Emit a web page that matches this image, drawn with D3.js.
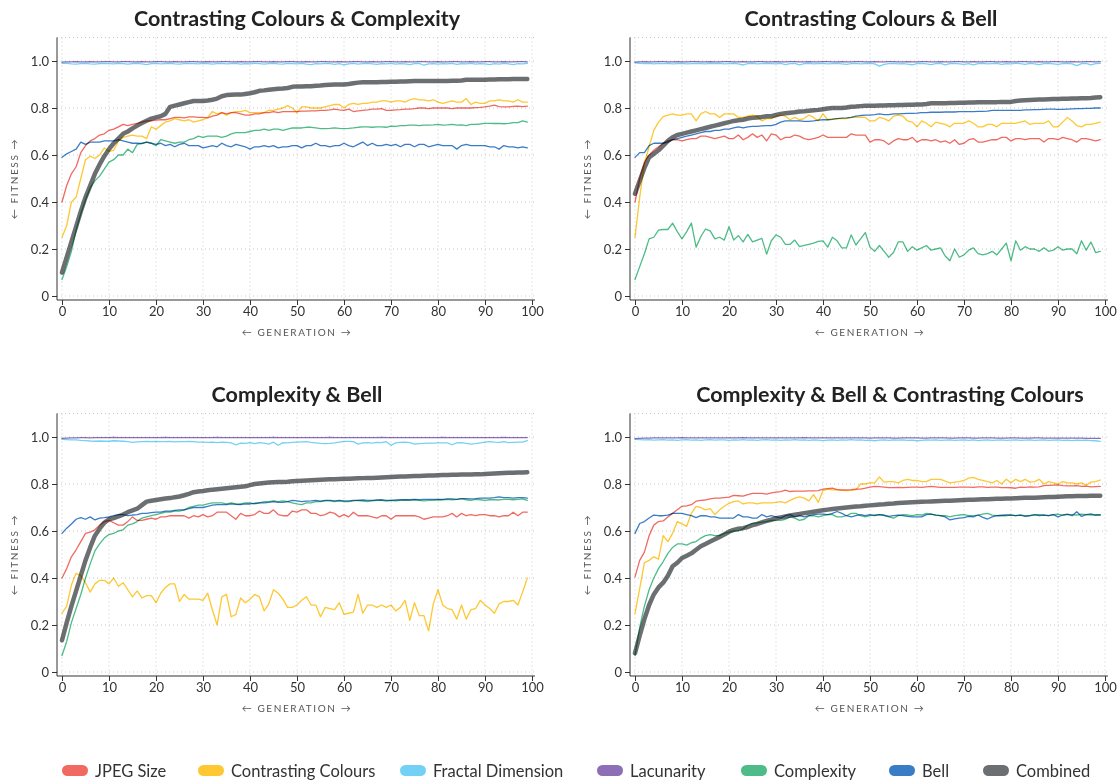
<!DOCTYPE html>
<html>
<head>
<meta charset="utf-8">
<script src="https://cdn.jsdelivr.net/npm/d3@7"></script>
<style>
  html, body { margin: 0; padding: 0; background: #fff; }
  svg { display: block; font-family: Lato, "Noto Sans", sans-serif; }
  .series { mix-blend-mode: multiply; }
</style>
</head>
<body>
<svg id="chart" width="1118" height="782"></svg>
<script>
// ---- labels ----
const panelTitles = [
  "Contrasting Colours & Complexity",
  "Contrasting Colours & Bell",
  "Complexity & Bell",
  "Complexity & Bell & Contrasting Colours"
];
const seriesNames = ["JPEG Size", "Contrasting Colours", "Fractal Dimension", "Lacunarity", "Complexity", "Bell", "Combined"];
const seriesColors = ["#f16a62", "#fdc832", "#74d1f6", "#8c6fb7", "#4dbc88", "#3b7cc6", "#6c6f71"];
const xTicks = [0, 10, 20, 30, 40, 50, 60, 70, 80, 90, 100];
const yTicks = [0, 0.2, 0.4, 0.6, 0.8, 1.0];
const yTickLabels = ["0", "0.2", "0.4", "0.6", "0.8", "1.0"];

// ---- Contrasting Colours & Complexity ----
const ccxJpeg = [
  0.40,0.47,0.52,0.55,0.61,0.64,0.66,0.67,0.685,0.69,
  0.705,0.71,0.72,0.73,0.725,0.73,0.735,0.74,0.745,0.745,
  0.748,0.75,0.75,0.755,0.76,0.76,0.758,0.762,0.762,0.76,
  0.76,0.758,0.765,0.77,0.78,0.775,0.78,0.78,0.775,0.77,
  0.77,0.775,0.775,0.78,0.78,0.785,0.78,0.785,0.785,0.785,
  0.785,0.787,0.787,0.788,0.788,0.79,0.79,0.792,0.795,0.792,
  0.79,0.795,0.785,0.788,0.79,0.792,0.795,0.795,0.797,0.79,
  0.79,0.792,0.793,0.795,0.795,0.797,0.80,0.80,0.797,0.80,
  0.80,0.80,0.80,0.797,0.80,0.80,0.80,0.80,0.802,0.803,
  0.805,0.808,0.812,0.806,0.805,0.805,0.807,0.808,0.806,0.808
];
const ccxContrast = [
  0.25,0.30,0.40,0.42,0.50,0.58,0.595,0.585,0.60,0.63,
  0.615,0.62,0.66,0.675,0.68,0.685,0.68,0.68,0.67,0.72,
  0.71,0.725,0.74,0.745,0.755,0.75,0.745,0.75,0.74,0.745,
  0.75,0.76,0.785,0.775,0.78,0.77,0.78,0.785,0.785,0.79,
  0.78,0.78,0.78,0.78,0.79,0.79,0.795,0.80,0.81,0.80,
  0.78,0.805,0.805,0.80,0.80,0.80,0.805,0.81,0.815,0.815,
  0.80,0.815,0.82,0.815,0.82,0.82,0.825,0.825,0.83,0.83,
  0.825,0.83,0.83,0.825,0.835,0.84,0.835,0.835,0.83,0.835,
  0.825,0.82,0.825,0.83,0.825,0.825,0.84,0.815,0.825,0.82,
  0.82,0.83,0.83,0.835,0.83,0.83,0.825,0.835,0.825,0.825
];
const ccxFractal = [
  0.99,0.99,0.988,0.987,0.989,0.99,0.988,0.987,0.989,0.99,
  0.989,0.988,0.99,0.989,0.987,0.989,0.99,0.988,0.985,0.989,
  0.99,0.988,0.989,0.99,0.988,0.987,0.989,0.99,0.989,0.988,
  0.99,0.989,0.987,0.989,0.99,0.988,0.989,0.99,0.987,0.989,
  0.988,0.99,0.989,0.987,0.989,0.99,0.988,0.987,0.99,0.989,
  0.988,0.99,0.987,0.985,0.989,0.988,0.99,0.989,0.986,0.989,
  0.984,0.988,0.99,0.987,0.989,0.99,0.988,0.986,0.989,0.988,
  0.99,0.987,0.989,0.988,0.985,0.989,0.99,0.982,0.988,0.989,
  0.987,0.989,0.988,0.99,0.986,0.989,0.988,0.99,0.987,0.989,
  0.988,0.985,0.989,0.987,0.99,0.988,0.985,0.989,0.988,0.99
];
const ccxLacunarity = [
  0.995,0.996,0.996,0.997,0.996,0.996,0.997,0.996,0.996,0.997,
  0.997,0.996,0.996,0.997,0.997,0.996,0.996,0.997,0.996,0.996,
  0.997,0.997,0.996,0.996,0.997,0.996,0.996,0.997,0.997,0.996,
  0.996,0.997,0.996,0.996,0.997,0.997,0.996,0.996,0.997,0.996,
  0.996,0.997,0.997,0.996,0.996,0.997,0.996,0.996,0.997,0.997,
  0.996,0.996,0.997,0.996,0.996,0.997,0.997,0.996,0.996,0.997,
  0.996,0.996,0.997,0.997,0.996,0.996,0.997,0.996,0.996,0.997,
  0.997,0.996,0.996,0.997,0.996,0.996,0.997,0.997,0.996,0.996,
  0.997,0.996,0.996,0.997,0.997,0.996,0.996,0.997,0.996,0.996,
  0.997,0.997,0.996,0.996,0.997,0.996,0.996,0.997,0.997,0.996
];
const ccxComplexity = [
  0.07,0.125,0.19,0.28,0.35,0.41,0.46,0.49,0.51,0.54,
  0.57,0.58,0.60,0.60,0.625,0.61,0.645,0.65,0.655,0.65,
  0.64,0.665,0.66,0.655,0.65,0.655,0.655,0.665,0.67,0.68,
  0.675,0.68,0.68,0.68,0.675,0.68,0.69,0.695,0.695,0.695,
  0.70,0.705,0.705,0.71,0.705,0.71,0.71,0.705,0.71,0.715,
  0.715,0.715,0.718,0.718,0.715,0.712,0.712,0.713,0.715,0.713,
  0.712,0.713,0.715,0.718,0.72,0.72,0.718,0.72,0.72,0.718,
  0.723,0.722,0.725,0.725,0.727,0.727,0.725,0.727,0.727,0.728,
  0.73,0.727,0.728,0.73,0.727,0.728,0.725,0.73,0.73,0.732,
  0.735,0.735,0.734,0.735,0.733,0.735,0.738,0.738,0.745,0.74
];
const ccxBell = [
  0.59,0.605,0.615,0.625,0.655,0.645,0.655,0.655,0.655,0.66,
  0.66,0.66,0.665,0.66,0.655,0.65,0.65,0.648,0.655,0.65,
  0.645,0.65,0.64,0.645,0.635,0.645,0.65,0.64,0.64,0.64,
  0.63,0.635,0.64,0.635,0.65,0.64,0.635,0.645,0.64,0.635,
  0.625,0.635,0.635,0.64,0.635,0.64,0.63,0.635,0.635,0.64,
  0.64,0.63,0.64,0.64,0.65,0.64,0.64,0.635,0.64,0.64,
  0.65,0.64,0.635,0.645,0.655,0.64,0.65,0.64,0.64,0.645,
  0.64,0.645,0.635,0.645,0.645,0.635,0.645,0.645,0.635,0.64,
  0.645,0.64,0.64,0.64,0.625,0.64,0.645,0.64,0.64,0.64,
  0.64,0.635,0.635,0.625,0.64,0.635,0.635,0.63,0.635,0.63
];
const ccxCombined = [
  0.10,0.165,0.23,0.295,0.36,0.42,0.47,0.52,0.56,0.595,
  0.625,0.65,0.67,0.69,0.70,0.713,0.725,0.736,0.746,0.755,
  0.76,0.765,0.775,0.805,0.81,0.815,0.82,0.825,0.83,0.83,
  0.83,0.832,0.835,0.84,0.85,0.855,0.856,0.857,0.857,0.86,
  0.863,0.867,0.873,0.875,0.878,0.88,0.882,0.883,0.885,0.89,
  0.892,0.892,0.893,0.893,0.895,0.896,0.898,0.899,0.90,0.90,
  0.90,0.902,0.905,0.908,0.91,0.91,0.91,0.91,0.911,0.911,
  0.912,0.912,0.913,0.913,0.914,0.915,0.915,0.915,0.915,0.915,
  0.915,0.915,0.915,0.916,0.916,0.917,0.92,0.92,0.92,0.92,
  0.92,0.921,0.921,0.922,0.922,0.922,0.923,0.923,0.923,0.923
];

// ---- Contrasting Colours & Bell ----
const cbJpeg = [
  0.40,0.50,0.57,0.60,0.62,0.635,0.65,0.66,0.665,0.665,
  0.66,0.665,0.67,0.67,0.68,0.68,0.675,0.67,0.675,0.68,
  0.67,0.67,0.685,0.665,0.675,0.69,0.675,0.685,0.66,0.69,
  0.685,0.665,0.675,0.675,0.685,0.68,0.67,0.665,0.67,0.675,
  0.685,0.675,0.675,0.675,0.675,0.675,0.69,0.685,0.685,0.685,
  0.655,0.665,0.665,0.66,0.645,0.66,0.67,0.665,0.665,0.675,
  0.655,0.665,0.665,0.66,0.665,0.655,0.66,0.65,0.665,0.645,
  0.65,0.665,0.67,0.655,0.655,0.66,0.665,0.665,0.675,0.675,
  0.66,0.67,0.67,0.665,0.67,0.67,0.67,0.655,0.67,0.67,
  0.665,0.675,0.67,0.665,0.655,0.67,0.67,0.665,0.66,0.665
];
const cbContrast = [
  0.25,0.42,0.565,0.635,0.705,0.74,0.763,0.77,0.775,0.77,
  0.77,0.775,0.775,0.745,0.775,0.785,0.775,0.775,0.76,0.775,
  0.775,0.775,0.76,0.76,0.765,0.77,0.765,0.745,0.755,0.755,
  0.765,0.77,0.765,0.75,0.76,0.75,0.755,0.77,0.76,0.745,
  0.775,0.75,0.755,0.755,0.755,0.755,0.76,0.76,0.76,0.76,
  0.745,0.745,0.76,0.755,0.745,0.765,0.77,0.765,0.745,0.74,
  0.72,0.745,0.735,0.72,0.74,0.735,0.73,0.72,0.735,0.735,
  0.735,0.745,0.735,0.72,0.72,0.73,0.73,0.72,0.735,0.735,
  0.735,0.735,0.74,0.745,0.73,0.735,0.735,0.735,0.745,0.72,
  0.72,0.74,0.76,0.745,0.725,0.72,0.73,0.73,0.735,0.74
];
const cbFractal = [
  0.992,0.99,0.989,0.99,0.988,0.99,0.989,0.99,0.988,0.989,
  0.99,0.988,0.989,0.99,0.989,0.988,0.99,0.989,0.99,0.988,
  0.989,0.99,0.988,0.983,0.989,0.99,0.988,0.989,0.99,0.989,
  0.988,0.99,0.985,0.989,0.99,0.984,0.989,0.99,0.988,0.989,
  0.99,0.988,0.989,0.99,0.988,0.986,0.989,0.99,0.988,0.989,
  0.99,0.988,0.978,0.986,0.989,0.99,0.988,0.989,0.987,0.984,
  0.989,0.99,0.988,0.985,0.989,0.99,0.984,0.989,0.99,0.988,
  0.986,0.989,0.983,0.989,0.99,0.988,0.989,0.99,0.986,0.989,
  0.988,0.99,0.989,0.986,0.99,0.988,0.985,0.989,0.99,0.988,
  0.986,0.989,0.99,0.988,0.98,0.989,0.99,0.984,0.989,0.99
];
const cbLacunarity = [
  0.995,0.996,0.997,0.996,0.996,0.997,0.997,0.996,0.996,0.997,
  0.996,0.996,0.997,0.997,0.996,0.996,0.997,0.996,0.996,0.997,
  0.997,0.996,0.996,0.997,0.996,0.996,0.997,0.997,0.996,0.996,
  0.997,0.996,0.996,0.997,0.997,0.996,0.996,0.997,0.996,0.996,
  0.997,0.997,0.996,0.996,0.997,0.996,0.996,0.997,0.997,0.996,
  0.996,0.997,0.996,0.996,0.997,0.997,0.996,0.996,0.997,0.996,
  0.996,0.997,0.997,0.996,0.996,0.997,0.996,0.996,0.997,0.997,
  0.996,0.996,0.997,0.996,0.996,0.997,0.997,0.996,0.996,0.997,
  0.996,0.996,0.997,0.997,0.996,0.996,0.997,0.996,0.996,0.997,
  0.997,0.996,0.996,0.997,0.996,0.996,0.997,0.997,0.996,0.997
];
const cbComplexity = [
  0.07,0.125,0.18,0.243,0.25,0.28,0.283,0.283,0.31,0.274,
  0.243,0.274,0.31,0.208,0.252,0.285,0.277,0.243,0.25,0.238,
  0.295,0.238,0.257,0.23,0.262,0.23,0.238,0.245,0.178,0.235,
  0.26,0.25,0.22,0.22,0.238,0.21,0.215,0.22,0.225,0.232,
  0.235,0.208,0.25,0.235,0.205,0.205,0.26,0.217,0.243,0.27,
  0.208,0.19,0.215,0.19,0.165,0.185,0.23,0.23,0.19,0.21,
  0.195,0.205,0.215,0.195,0.20,0.205,0.17,0.15,0.20,0.165,
  0.175,0.195,0.205,0.18,0.175,0.18,0.19,0.175,0.20,0.225,
  0.15,0.235,0.195,0.21,0.20,0.20,0.19,0.205,0.19,0.195,
  0.21,0.195,0.20,0.20,0.18,0.235,0.195,0.23,0.185,0.19
];
const cbBell = [
  0.59,0.61,0.61,0.64,0.65,0.65,0.65,0.655,0.665,0.67,
  0.675,0.68,0.685,0.69,0.695,0.70,0.70,0.705,0.705,0.71,
  0.71,0.715,0.72,0.715,0.72,0.722,0.722,0.724,0.725,0.725,
  0.73,0.74,0.745,0.745,0.745,0.745,0.743,0.743,0.745,0.748,
  0.75,0.75,0.752,0.755,0.757,0.758,0.76,0.765,0.768,0.77,
  0.77,0.772,0.775,0.772,0.772,0.775,0.775,0.776,0.777,0.777,
  0.778,0.78,0.78,0.782,0.782,0.782,0.783,0.783,0.783,0.785,
  0.785,0.785,0.785,0.786,0.786,0.787,0.79,0.79,0.79,0.79,
  0.79,0.79,0.79,0.792,0.792,0.793,0.793,0.794,0.795,0.795,
  0.794,0.794,0.795,0.796,0.797,0.797,0.798,0.798,0.80,0.80
];
const cbCombined = [
  0.435,0.49,0.545,0.59,0.605,0.62,0.64,0.66,0.675,0.685,
  0.69,0.695,0.70,0.705,0.71,0.715,0.72,0.725,0.73,0.735,
  0.74,0.745,0.748,0.75,0.755,0.758,0.76,0.762,0.765,0.765,
  0.77,0.775,0.778,0.78,0.782,0.785,0.786,0.788,0.79,0.792,
  0.795,0.798,0.80,0.80,0.80,0.802,0.805,0.806,0.808,0.81,
  0.81,0.81,0.811,0.811,0.812,0.812,0.813,0.813,0.814,0.814,
  0.815,0.815,0.817,0.82,0.82,0.82,0.82,0.821,0.821,0.822,
  0.822,0.823,0.823,0.824,0.824,0.825,0.825,0.825,0.826,0.826,
  0.826,0.83,0.832,0.833,0.834,0.835,0.836,0.836,0.837,0.838,
  0.838,0.839,0.839,0.84,0.84,0.841,0.842,0.843,0.845,0.846
];

// ---- Complexity & Bell ----
const cxbJpeg = [
  0.40,0.44,0.49,0.52,0.555,0.59,0.595,0.605,0.625,0.64,
  0.645,0.635,0.625,0.625,0.64,0.66,0.645,0.645,0.65,0.655,
  0.65,0.66,0.66,0.665,0.665,0.665,0.665,0.655,0.665,0.66,
  0.67,0.66,0.665,0.68,0.68,0.68,0.665,0.65,0.675,0.665,
  0.665,0.67,0.685,0.675,0.675,0.69,0.67,0.665,0.665,0.685,
  0.68,0.69,0.69,0.675,0.675,0.665,0.67,0.68,0.675,0.66,
  0.67,0.66,0.68,0.665,0.665,0.665,0.66,0.655,0.665,0.665,
  0.65,0.665,0.665,0.665,0.665,0.665,0.66,0.65,0.655,0.66,
  0.66,0.66,0.665,0.675,0.66,0.675,0.665,0.67,0.665,0.67,
  0.67,0.665,0.665,0.66,0.665,0.665,0.68,0.665,0.68,0.68
];
const cxbContrast = [
  0.25,0.28,0.37,0.42,0.41,0.38,0.34,0.375,0.39,0.39,
  0.375,0.40,0.365,0.38,0.35,0.32,0.345,0.315,0.325,0.325,
  0.295,0.335,0.36,0.375,0.375,0.30,0.33,0.31,0.31,0.31,
  0.305,0.335,0.265,0.20,0.32,0.33,0.235,0.245,0.315,0.295,
  0.31,0.33,0.32,0.26,0.29,0.35,0.335,0.31,0.275,0.275,
  0.285,0.305,0.32,0.285,0.285,0.235,0.275,0.27,0.265,0.295,
  0.245,0.25,0.255,0.33,0.25,0.285,0.285,0.275,0.285,0.275,
  0.285,0.26,0.275,0.305,0.22,0.295,0.24,0.24,0.175,0.29,
  0.35,0.285,0.27,0.265,0.225,0.285,0.225,0.265,0.27,0.305,
  0.285,0.27,0.25,0.29,0.30,0.30,0.305,0.285,0.34,0.40
];
const cxbFractal = [
  0.99,0.989,0.988,0.988,0.986,0.985,0.983,0.982,0.983,0.982,
  0.982,0.984,0.983,0.982,0.98,0.977,0.979,0.98,0.981,0.98,
  0.981,0.98,0.98,0.981,0.979,0.98,0.98,0.981,0.98,0.978,
  0.978,0.977,0.978,0.976,0.978,0.977,0.975,0.966,0.974,0.973,
  0.976,0.972,0.976,0.974,0.97,0.978,0.965,0.976,0.975,0.977,
  0.978,0.979,0.98,0.977,0.975,0.973,0.972,0.973,0.975,0.978,
  0.981,0.981,0.98,0.97,0.975,0.976,0.974,0.977,0.976,0.98,
  0.965,0.975,0.977,0.978,0.976,0.97,0.972,0.973,0.974,0.974,
  0.975,0.975,0.975,0.967,0.975,0.976,0.973,0.97,0.972,0.975,
  0.978,0.98,0.978,0.977,0.98,0.976,0.977,0.978,0.978,0.985
];
const cxbLacunarity = [
  0.994,0.995,0.996,0.996,0.997,0.997,0.996,0.997,0.997,0.997,
  0.997,0.998,0.997,0.997,0.997,0.997,0.997,0.997,0.997,0.997,
  0.997,0.997,0.998,0.997,0.997,0.997,0.997,0.997,0.997,0.997,
  0.997,0.997,0.997,0.998,0.997,0.997,0.997,0.997,0.997,0.997,
  0.997,0.997,0.997,0.997,0.997,0.998,0.997,0.997,0.997,0.997,
  0.997,0.997,0.997,0.997,0.997,0.997,0.997,0.998,0.997,0.997,
  0.997,0.997,0.997,0.997,0.997,0.997,0.997,0.997,0.998,0.997,
  0.997,0.997,0.997,0.997,0.997,0.997,0.997,0.997,0.997,0.997,
  0.997,0.998,0.997,0.997,0.997,0.997,0.997,0.997,0.997,0.997,
  0.997,0.997,0.997,0.997,0.998,0.997,0.997,0.997,0.997,0.997
];
const cxbComplexity = [
  0.07,0.13,0.21,0.27,0.33,0.40,0.46,0.515,0.545,0.57,
  0.585,0.59,0.60,0.605,0.625,0.63,0.64,0.655,0.66,0.665,
  0.67,0.675,0.68,0.68,0.685,0.685,0.69,0.70,0.705,0.71,
  0.71,0.715,0.72,0.72,0.72,0.715,0.72,0.715,0.715,0.72,
  0.72,0.715,0.72,0.725,0.725,0.728,0.725,0.728,0.725,0.72,
  0.715,0.712,0.72,0.72,0.725,0.725,0.728,0.728,0.725,0.728,
  0.725,0.725,0.728,0.73,0.727,0.725,0.728,0.73,0.73,0.727,
  0.73,0.728,0.73,0.732,0.73,0.733,0.73,0.728,0.73,0.73,
  0.733,0.732,0.735,0.733,0.735,0.738,0.733,0.73,0.735,0.733,
  0.73,0.733,0.733,0.732,0.735,0.735,0.733,0.735,0.737,0.73
];
const cxbBell = [
  0.59,0.612,0.63,0.65,0.657,0.65,0.66,0.647,0.655,0.657,
  0.66,0.665,0.67,0.67,0.665,0.668,0.67,0.675,0.675,0.678,
  0.68,0.68,0.685,0.685,0.688,0.69,0.69,0.695,0.70,0.70,
  0.70,0.705,0.71,0.712,0.712,0.712,0.715,0.713,0.712,0.715,
  0.715,0.718,0.72,0.72,0.722,0.725,0.722,0.722,0.725,0.73,
  0.728,0.725,0.727,0.728,0.73,0.727,0.73,0.73,0.728,0.73,
  0.728,0.728,0.73,0.73,0.732,0.73,0.73,0.732,0.733,0.73,
  0.73,0.732,0.733,0.733,0.733,0.735,0.733,0.735,0.735,0.735,
  0.735,0.735,0.737,0.737,0.735,0.738,0.738,0.737,0.738,0.74,
  0.74,0.74,0.742,0.745,0.742,0.742,0.74,0.742,0.742,0.74
];
const cxbCombined = [
  0.135,0.21,0.28,0.345,0.41,0.475,0.53,0.58,0.61,0.635,
  0.65,0.655,0.662,0.67,0.68,0.688,0.695,0.71,0.725,0.729,
  0.732,0.735,0.738,0.74,0.744,0.747,0.752,0.758,0.765,0.768,
  0.77,0.773,0.776,0.778,0.78,0.782,0.784,0.786,0.788,0.79,
  0.795,0.80,0.802,0.804,0.806,0.807,0.808,0.809,0.81,0.812,
  0.813,0.814,0.815,0.816,0.817,0.818,0.819,0.82,0.82,0.821,
  0.822,0.822,0.823,0.824,0.825,0.826,0.826,0.827,0.828,0.829,
  0.83,0.831,0.832,0.832,0.833,0.834,0.834,0.835,0.836,0.836,
  0.837,0.838,0.838,0.839,0.839,0.84,0.84,0.84,0.841,0.841,
  0.843,0.844,0.845,0.846,0.847,0.848,0.848,0.849,0.849,0.85
];

// ---- Complexity & Bell & Contrasting Colours ----
const cxbcJpeg = [
  0.405,0.475,0.51,0.58,0.625,0.64,0.643,0.66,0.675,0.69,
  0.705,0.707,0.712,0.727,0.73,0.732,0.737,0.74,0.74,0.742,
  0.744,0.752,0.75,0.748,0.755,0.76,0.76,0.76,0.757,0.762,
  0.765,0.768,0.774,0.768,0.77,0.77,0.77,0.771,0.771,0.772,
  0.778,0.78,0.782,0.776,0.774,0.775,0.776,0.778,0.778,0.782,
  0.787,0.79,0.789,0.787,0.785,0.785,0.786,0.785,0.786,0.787,
  0.787,0.786,0.788,0.79,0.788,0.786,0.786,0.786,0.786,0.787,
  0.787,0.787,0.786,0.788,0.788,0.786,0.787,0.787,0.785,0.785,
  0.784,0.782,0.787,0.786,0.788,0.787,0.788,0.793,0.794,0.795,
  0.796,0.793,0.792,0.792,0.793,0.79,0.791,0.788,0.789,0.79
];
const cxbcContrast = [
  0.25,0.355,0.465,0.475,0.49,0.48,0.58,0.555,0.59,0.64,
  0.63,0.62,0.675,0.705,0.70,0.69,0.695,0.67,0.69,0.705,
  0.718,0.725,0.728,0.715,0.72,0.72,0.715,0.72,0.72,0.72,
  0.722,0.725,0.72,0.73,0.74,0.745,0.74,0.728,0.755,0.722,
  0.772,0.778,0.775,0.775,0.775,0.772,0.773,0.775,0.80,0.80,
  0.805,0.805,0.83,0.808,0.81,0.81,0.805,0.815,0.82,0.815,
  0.815,0.81,0.81,0.82,0.82,0.82,0.812,0.805,0.808,0.81,
  0.815,0.825,0.828,0.82,0.815,0.81,0.805,0.815,0.80,0.82,
  0.805,0.82,0.81,0.82,0.808,0.81,0.82,0.80,0.81,0.805,
  0.80,0.81,0.805,0.805,0.80,0.805,0.795,0.808,0.81,0.817
];
const cxbcFractal = [
  0.99,0.989,0.988,0.989,0.987,0.988,0.989,0.987,0.988,0.986,
  0.988,0.989,0.987,0.988,0.986,0.988,0.989,0.987,0.988,0.988,
  0.986,0.988,0.987,0.989,0.987,0.988,0.986,0.988,0.989,0.987,
  0.988,0.986,0.988,0.987,0.989,0.987,0.988,0.986,0.988,0.987,
  0.985,0.987,0.988,0.986,0.988,0.987,0.989,0.987,0.988,0.986,
  0.987,0.984,0.987,0.988,0.986,0.988,0.987,0.988,0.986,0.987,
  0.984,0.986,0.988,0.987,0.988,0.986,0.987,0.988,0.986,0.987,
  0.988,0.986,0.988,0.985,0.987,0.988,0.986,0.987,0.988,0.986,
  0.987,0.988,0.986,0.987,0.988,0.986,0.987,0.988,0.986,0.987,
  0.988,0.986,0.987,0.985,0.987,0.986,0.987,0.985,0.984,0.981
];
const cxbcLacunarity = [
  0.993,0.994,0.995,0.995,0.996,0.996,0.996,0.996,0.996,0.996,
  0.997,0.996,0.996,0.996,0.996,0.996,0.996,0.996,0.996,0.996,
  0.996,0.996,0.996,0.997,0.996,0.996,0.996,0.996,0.996,0.996,
  0.996,0.996,0.996,0.996,0.996,0.996,0.997,0.996,0.996,0.996,
  0.996,0.996,0.996,0.996,0.996,0.996,0.996,0.996,0.996,0.996,
  0.995,0.996,0.996,0.996,0.996,0.995,0.995,0.996,0.996,0.996,
  0.996,0.995,0.995,0.996,0.996,0.996,0.996,0.995,0.995,0.996,
  0.996,0.996,0.995,0.995,0.996,0.996,0.996,0.995,0.995,0.995,
  0.996,0.996,0.995,0.995,0.995,0.996,0.996,0.995,0.995,0.995,
  0.995,0.995,0.995,0.995,0.995,0.995,0.994,0.994,0.994,0.994
];
const cxbcComplexity = [
  0.07,0.19,0.28,0.35,0.40,0.44,0.47,0.505,0.53,0.545,
  0.545,0.54,0.55,0.555,0.57,0.58,0.585,0.58,0.58,0.59,
  0.595,0.60,0.60,0.61,0.625,0.632,0.635,0.638,0.64,0.645,
  0.645,0.645,0.65,0.66,0.655,0.645,0.65,0.665,0.665,0.66,
  0.665,0.67,0.67,0.66,0.66,0.665,0.675,0.675,0.665,0.66,
  0.665,0.668,0.67,0.665,0.66,0.655,0.665,0.67,0.668,0.665,
  0.67,0.668,0.675,0.672,0.668,0.665,0.665,0.66,0.665,0.668,
  0.67,0.665,0.665,0.668,0.672,0.675,0.668,0.665,0.665,0.665,
  0.668,0.665,0.668,0.665,0.665,0.668,0.67,0.668,0.665,0.67,
  0.672,0.668,0.67,0.67,0.668,0.672,0.67,0.668,0.67,0.67
];
const cxbcBell = [
  0.59,0.632,0.64,0.655,0.668,0.665,0.665,0.668,0.675,0.675,
  0.675,0.67,0.665,0.657,0.665,0.665,0.66,0.66,0.655,0.655,
  0.655,0.655,0.67,0.66,0.66,0.655,0.655,0.67,0.66,0.665,
  0.66,0.655,0.665,0.67,0.66,0.665,0.66,0.665,0.67,0.672,
  0.672,0.67,0.675,0.683,0.675,0.665,0.66,0.665,0.67,0.665,
  0.67,0.665,0.67,0.668,0.662,0.665,0.668,0.665,0.662,0.66,
  0.66,0.66,0.67,0.672,0.668,0.665,0.66,0.647,0.652,0.655,
  0.657,0.662,0.66,0.668,0.658,0.651,0.66,0.665,0.667,0.668,
  0.668,0.665,0.668,0.662,0.665,0.67,0.665,0.668,0.665,0.67,
  0.66,0.668,0.672,0.665,0.682,0.662,0.67,0.673,0.667,0.668
];
const cxbcCombined = [
  0.08,0.155,0.225,0.285,0.33,0.36,0.38,0.41,0.45,0.465,
  0.485,0.495,0.505,0.52,0.535,0.545,0.555,0.565,0.575,0.585,
  0.597,0.605,0.61,0.612,0.617,0.625,0.63,0.637,0.643,0.648,
  0.654,0.658,0.662,0.666,0.669,0.672,0.676,0.679,0.682,0.685,
  0.688,0.691,0.694,0.696,0.698,0.70,0.702,0.704,0.705,0.707,
  0.709,0.711,0.713,0.714,0.716,0.717,0.719,0.72,0.721,0.722,
  0.723,0.724,0.725,0.726,0.727,0.728,0.729,0.729,0.73,0.731,
  0.732,0.733,0.733,0.734,0.735,0.735,0.736,0.737,0.737,0.738,
  0.738,0.739,0.74,0.741,0.741,0.742,0.743,0.744,0.745,0.745,
  0.746,0.747,0.748,0.748,0.749,0.749,0.749,0.75,0.75,0.75
];

// ---- layout ----
const svg = d3.select("#chart");
const panels = [
  { title: panelTitles[0], titleX: 297, left: 62, base: 0,
    data: [ccxJpeg, ccxContrast, ccxFractal, ccxLacunarity, ccxComplexity, ccxBell, ccxCombined] },
  { title: panelTitles[1], titleX: 871, left: 635, base: 0,
    data: [cbJpeg, cbContrast, cbFractal, cbLacunarity, cbComplexity, cbBell, cbCombined] },
  { title: panelTitles[2], titleX: 297, left: 62, base: 376,
    data: [cxbJpeg, cxbContrast, cxbFractal, cxbLacunarity, cxbComplexity, cxbBell, cxbCombined] },
  { title: panelTitles[3], titleX: 890, left: 635, base: 376,
    data: [cxbcJpeg, cxbcContrast, cxbcFractal, cxbcLacunarity, cxbcComplexity, cxbcBell, cxbcCombined] }
];

const textColor = "#333";

panels.forEach(p => {
  const x = d3.scaleLinear().domain([0, 100]).range([p.left, p.left + 470]);
  const y = d3.scaleLinear().domain([0, 1.1]).range([p.base + 296, p.base + 37.5]);
  const g = svg.append("g");
  const axisX = p.left - 5;
  const axisY = p.base + 300;

  // dotted grid
  const grid = g.append("g").attr("stroke", "#c9c9c9").attr("stroke-dasharray", "1,3");
  grid.selectAll("line.v").data(xTicks).join("line")
    .attr("x1", d => x(d)).attr("x2", d => x(d))
    .attr("y1", y(1.1)).attr("y2", axisY);
  grid.selectAll("line.h").data(yTicks.concat([1.1])).join("line")
    .attr("x1", axisX).attr("x2", x(100) + 3)
    .attr("y1", d => y(d)).attr("y2", d => y(d));

  // axes
  const yAxis = d3.axisLeft(y).tickValues(yTicks).tickFormat((d, i) => yTickLabels[i]).tickSize(5).tickPadding(3);
  const ya = g.append("g").attr("transform", `translate(${axisX},0)`).call(yAxis);
  ya.select(".domain").attr("d", `M0,${y(1.1)}V${axisY}`);
  const xAxis = d3.axisBottom(x).tickValues(xTicks).tickSize(5).tickPadding(2);
  const xa = g.append("g").attr("transform", `translate(0,${axisY})`).call(xAxis);
  xa.select(".domain").attr("d", `M${axisX},0H${x(100) + 3}`);
  [ya, xa].forEach(a => {
    a.selectAll("text").attr("fill", textColor).style("font-size", "13px").style("font-family", "Lato, sans-serif");
    a.selectAll("line").attr("stroke", "#333");
    a.select(".domain").attr("stroke", "#333");
  });

  // axis titles
  g.append("text")
    .attr("x", (x(0) + x(100)) / 2).attr("y", p.base + 336)
    .attr("text-anchor", "middle").attr("fill", "#555")
    .style("font-size", "10px").style("letter-spacing", "1.6px")
    .text("← GENERATION →");
  g.append("text")
    .attr("transform", `translate(${axisX - 39},${y(0.5)}) rotate(-90)`)
    .attr("text-anchor", "middle").attr("fill", "#555")
    .style("font-size", "10px").style("letter-spacing", "1.6px")
    .text("← FITNESS →");

  // title
  g.append("text")
    .attr("x", p.titleX).attr("y", p.base + 26)
    .attr("text-anchor", "middle").attr("fill", "#222")
    .style("font-size", "21.5px").style("font-weight", "bold")
    .text(p.title);

  // series lines
  const line = d3.line().x((d, i) => x(i)).y(d => y(d));
  p.data.forEach((values, si) => {
    g.append("path")
      .attr("class", "series")
      .attr("d", line(values))
      .attr("fill", "none")
      .attr("stroke", seriesColors[si])
      .attr("stroke-width", si === 6 ? 4.5 : 1.3)
      .attr("stroke-linejoin", "round")
      .attr("stroke-linecap", "round");
  });
});

// legend
const legendX = [62, 198, 400, 597, 741, 889, 983];
const legend = svg.append("g");
seriesNames.forEach((name, i) => {
  legend.append("rect")
    .attr("x", legendX[i]).attr("y", 765).attr("width", 26).attr("height", 11)
    .attr("rx", 5.5).attr("fill", seriesColors[i]);
  legend.append("text")
    .attr("x", legendX[i] + 33).attr("y", 776.5)
    .attr("fill", textColor).style("font-size", "16.5px")
    .text(name);
});
</script>
</body>
</html>
